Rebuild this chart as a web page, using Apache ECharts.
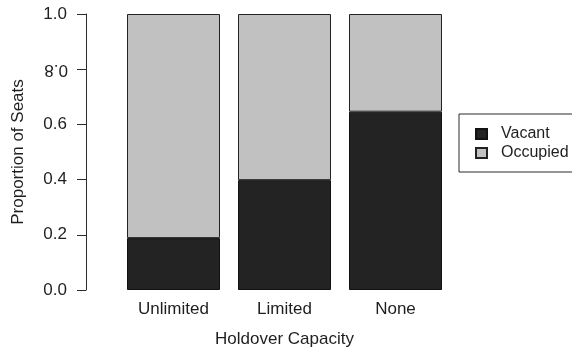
<!DOCTYPE html>
<html>
<head>
<meta charset="utf-8">
<script src="https://cdn.jsdelivr.net/npm/echarts@6/dist/echarts.min.js"></script>
<style>
  html, body { margin: 0; padding: 0; background: #fff; }
  #chart { width: 572px; height: 353px; }
</style>
</head>
<body>
<div id="chart"></div>
<script>
// Share of seats by holdover capacity
const categories = ['Unlimited', 'Limited', 'None'];
const vacant = [0.188, 0.398, 0.646];
const occupied = [0.812, 0.602, 0.354];
const yTicks = [0, 0.2, 0.4, 0.6, 0.8, 1.0];

const FONT = 'Liberation Sans, Arial, sans-serif';
const INK = '#1e1e1e';

const chart = echarts.init(document.getElementById('chart'), null, { renderer: 'canvas' });

const yBase = {
  type: 'value',
  min: yTicks[0],
  max: yTicks[yTicks.length - 1],
  interval: yTicks[1] - yTicks[0],
  position: 'left',
  offset: 32,
  splitLine: { show: false }
};

chart.setOption({
  animation: false,
  backgroundColor: '#fff',
  grid: { left: 118, right: 121, top: 14, bottom: 62 },
  xAxis: {
    type: 'category',
    data: categories,
    axisLine: { show: false },
    axisTick: { show: false },
    axisLabel: { color: INK, fontFamily: FONT, fontSize: 17, margin: 11 },
    name: 'Holdover Capacity',
    nameLocation: 'middle',
    nameGap: 41,
    nameTextStyle: { color: INK, fontFamily: FONT, fontSize: 17 }
  },
  yAxis: [
    Object.assign({}, yBase, {
      axisLine: { show: true, lineStyle: { color: '#2a2a2a', width: 1 } },
      axisTick: { show: true, length: 9, lineStyle: { color: '#2a2a2a', width: 1 } },
      axisLabel: {
        color: INK, fontFamily: FONT, fontSize: 17, margin: 19,
        formatter: v => (Math.abs(v - 0.8) < 1e-9 ? '' : v.toFixed(1))
      },
      name: 'Proportion of Seats',
      nameLocation: 'middle',
      nameRotate: 90,
      nameGap: 59,
      nameTextStyle: { color: INK, fontFamily: FONT, fontSize: 17 }
    }),
    // the 0.8 label is printed upside down
    Object.assign({}, yBase, {
      axisLine: { show: false },
      axisTick: { show: false },
      axisLabel: {
        color: INK, fontFamily: FONT, fontSize: 17, margin: 18, rotate: 180,
        formatter: v => (Math.abs(v - 0.8) < 1e-9 ? v.toFixed(1) : '')
      }
    })
  ],
  legend: {
    orient: 'vertical',
    left: 459,
    top: 114,
    padding: [12, 40, 11, 16],
    itemGap: 3,
    itemWidth: 11,
    itemHeight: 10,
    icon: 'rect',
    borderColor: '#2a2a2a',
    borderWidth: 1,
    borderRadius: 0,
    textStyle: { color: INK, fontFamily: FONT, fontSize: 16, padding: [0, 0, 0, 9] },
    data: ['Vacant', 'Occupied']
  },
  series: [
    {
      name: 'Vacant',
      type: 'bar',
      stack: 'seats',
      data: vacant,
      barWidth: 93,
      itemStyle: { color: '#232323', borderColor: '#111', borderWidth: 1 }
    },
    {
      name: 'Occupied',
      type: 'bar',
      stack: 'seats',
      data: occupied,
      barWidth: 93,
      itemStyle: { color: '#c1c1c1', borderColor: '#222', borderWidth: 1 }
    }
  ]
});
</script>
</body>
</html>
